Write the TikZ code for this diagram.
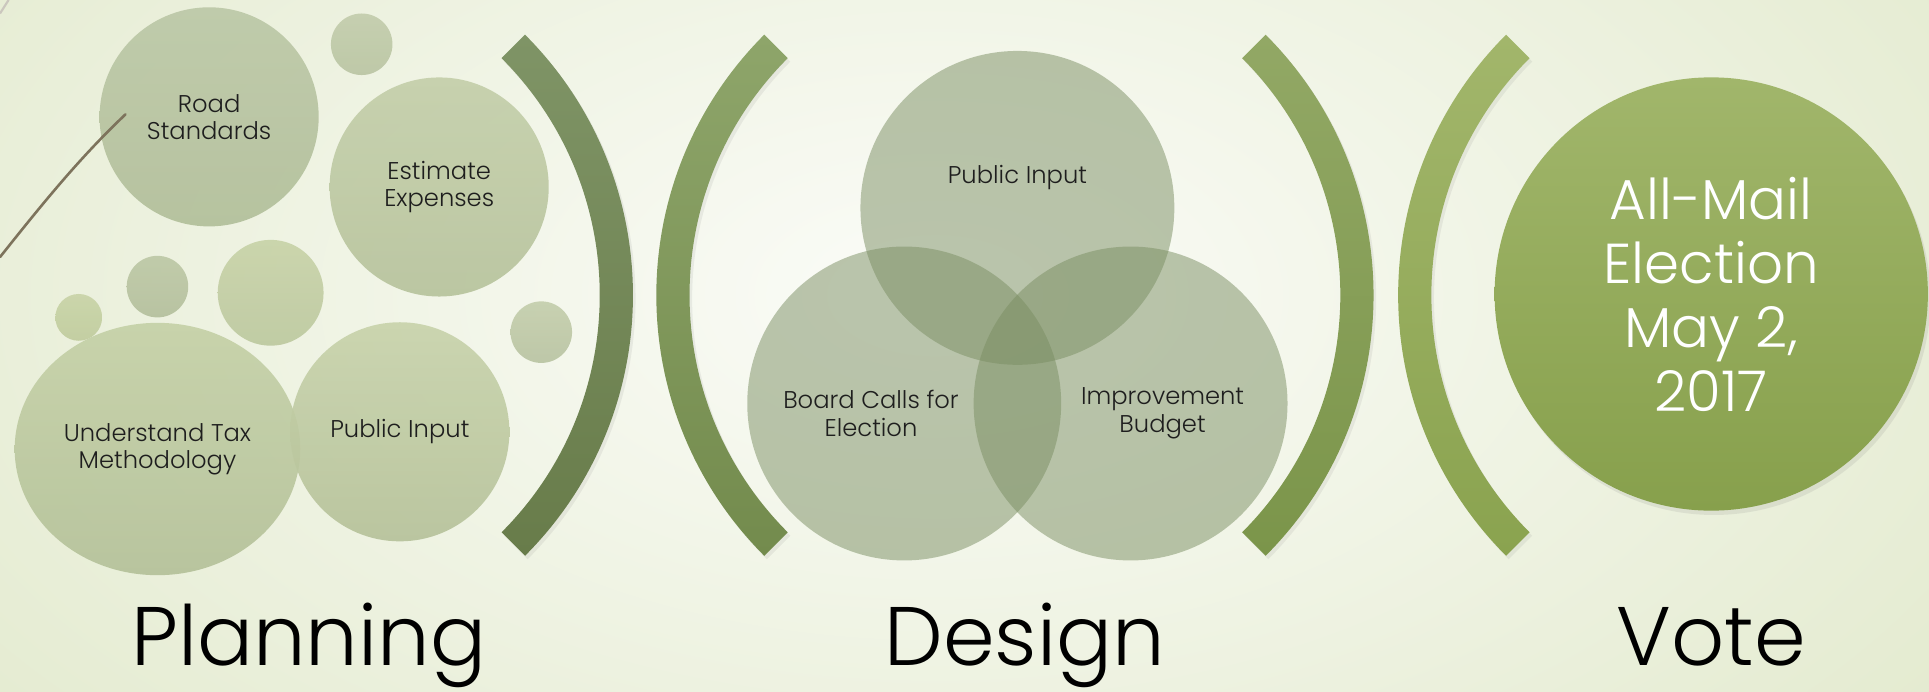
\documentclass[tikz,border=0pt]{standalone}
\usepackage{fontspec}
\IfFontExistsTF{Poppins Light}{\setmainfont{Poppins Light}}{\setmainfont{Poppins}}
\usetikzlibrary{shapes.geometric, shadows}
\definecolor{bgin}{HTML}{FBFCF8}
\definecolor{bgout}{HTML}{E4EBD0}
\definecolor{inkgray}{HTML}{1E1E1E}
\definecolor{venngreen}{HTML}{7A8E62}
\definecolor{twig}{HTML}{7D735C}

\begin{document}
\begin{tikzpicture}[x=0.01cm, y=-0.01cm,
  bubble/.style={circle, inner sep=0pt, outer sep=0pt, fill opacity=0.9, text opacity=1,
    align=center, text=inkgray, font=\fontsize{5.6}{6.3}\selectfont},
  venn/.style={circle, minimum size=2.55cm, inner sep=0pt, fill=venngreen, fill opacity=0.5},
  venntxt/.style={align=center, text=inkgray, font=\fontsize{5.6}{6.3}\selectfont},
  phase/.style={anchor=base, text=black, font=\fontsize{19.2}{21}\selectfont},
  brk/.style={drop shadow={shadow xshift=0.6pt, shadow yshift=-0.8pt, opacity=0.12}}]

% background
\useasboundingbox (0,0) rectangle (1568,562);
\begin{scope}
\clip (0,0) rectangle (1568,562);
\fill[bgout] (0,0) rectangle (1568,562);
\shade[inner color=bgin, outer color=bgout] (760,240) ellipse [x radius=1000, y radius=560];
\end{scope}

% planning bubbles
\node[bubble, minimum size=0.5cm, top color={rgb,255:red,194;green,204;blue,171}, bottom color={rgb,255:red,185;green,196;blue,162}] (dota) at (294,36) {};
\node[bubble, minimum size=0.38cm, top color={rgb,255:red,200;green,211;blue,166}, bottom color={rgb,255:red,191;green,203;blue,156}] (dotb) at (64,258) {};
\node[bubble, minimum size=0.5cm, top color={rgb,255:red,188;green,199;blue,165}, bottom color={rgb,255:red,179;green,191;blue,155}] (dotc) at (128,233) {};
\node[bubble, minimum size=0.86cm, top color={rgb,255:red,199;green,210;blue,167}, bottom color={rgb,255:red,188;green,200;blue,158}] (dotd) at (220,238) {};
\node[bubble, minimum size=0.5cm, top color={rgb,255:red,195;green,205;blue,171}, bottom color={rgb,255:red,184;green,195;blue,161}] (dote) at (440,270) {};
\node[bubble, minimum size=1.78cm, top color={rgb,255:red,187;green,199;blue,166}, bottom color={rgb,255:red,177;green,190;blue,153}] (road) at (170,95) {Road\\Standards};
\node[bubble, minimum size=1.78cm, top color={rgb,255:red,195;green,206;blue,169}, bottom color={rgb,255:red,182;green,194;blue,155}] (estimate) at (357,152) {Estimate\\Expenses};
\node[bubble, ellipse, minimum width=2.32cm, minimum height=2.05cm, top color={rgb,255:red,196;green,208;blue,166}, bottom color={rgb,255:red,179;green,192;blue,152}] (tax) at (128,365) {Understand Tax\\Methodology};
\node[bubble, minimum size=1.78cm, top color={rgb,255:red,199;green,210;blue,170}, bottom color={rgb,255:red,181;green,193;blue,153}] (pubin) at (325,351) {Public Input};

% twig
\draw[twig, line width=0.6pt, line cap=round] (0,209) .. controls (35,165) and (65,128) .. (102,93);
\draw[twig!40, line width=0.5pt] (0,11) -- (7,0);

% brackets
\foreach \cx/\a/\ctop/\cbot in {215/-45/7F9466/687C4A, 833/135/8EA56A/738B4D, 817/-45/92A865/7B954A, 1436/135/A2B66B/8AA34F}{
  \definecolor{brtop}{HTML}{\ctop}
  \definecolor{brbot}{HTML}{\cbot}
  \shade[brk, top color=brtop, bottom color=brbot]
    (\cx,240) ++(\a:299.5) arc[start angle=\a, end angle={\a+90}, radius=299.5]
    -- ++({\a+270}:27) arc[start angle={\a+90}, end angle=\a, radius=272.5] -- cycle;
}

% design venn
\node[venn] (vtop) at (827,169) {};
\node[venn] (vleft) at (735,328) {};
\node[venn] (vright) at (919,328) {};
\node[venntxt] (vtoptxt) at (827,144) {Public Input};
\node[venntxt] (vlefttxt) at (708,336) {Board Calls for\\Election};
\node[venntxt] (vrighttxt) at (945,336) {Improvement\\Budget};

% vote
\node[circle, minimum size=3.52cm, inner sep=0pt, align=center, text=white,
  top color={rgb,255:red,161;green,182;blue,107}, bottom color={rgb,255:red,135;green,160;blue,76},
  drop shadow={shadow xshift=0.6pt, shadow yshift=-1pt, opacity=0.15},
  font=\fontsize{13}{14.8}\selectfont] (vote) at (1391,239) {All-Mail\\Election\\May 2,\\2017};

% phase labels
\node[phase] (planning) at (251,541) {Planning};
\node[phase] (design) at (833,541) {Design};
\node[phase] (votelbl) at (1391,541) {Vote};
\end{tikzpicture}
\end{document}
